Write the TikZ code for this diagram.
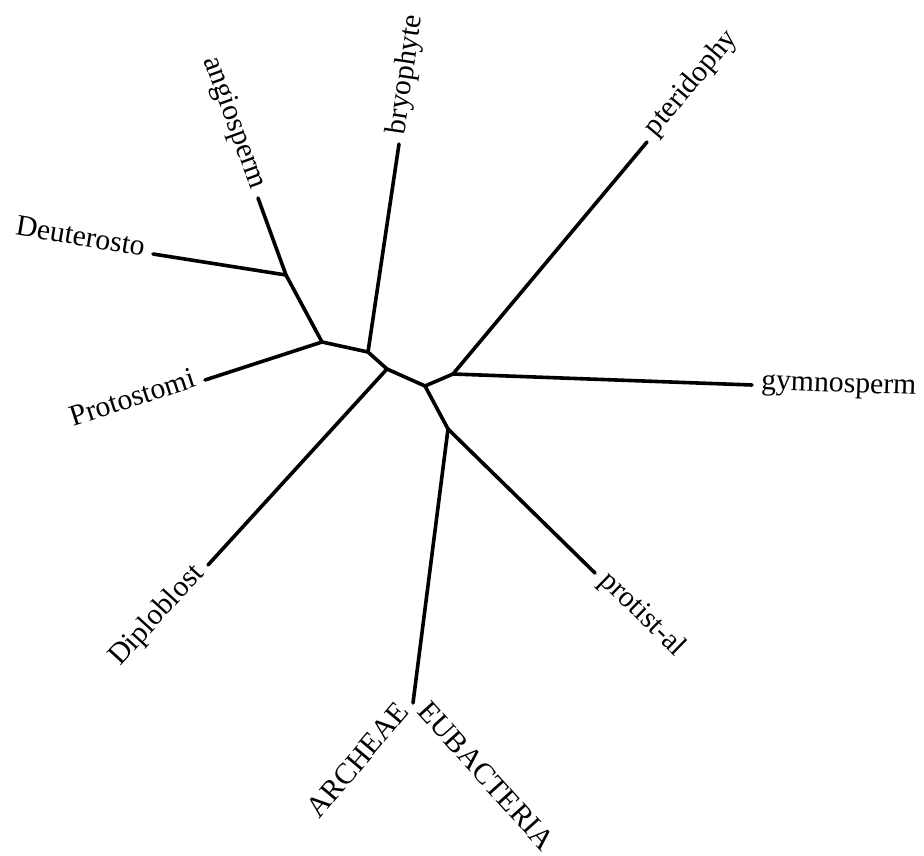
\documentclass[tikz,border=0pt]{standalone}
\usepackage{fontspec}
\setmainfont{Liberation Serif}
\begin{document}
\begin{tikzpicture}[x=1pt,y=-1pt,
  edge/.style={line width=3.6pt, line cap=round},
  tip/.style={font=\fontsize{29.7}{34}\selectfont, inner xsep=9pt, inner ysep=0pt, text height=0.75em, text depth=0pt}]
\useasboundingbox (0,0) rectangle (924,856);
% internal nodes
\coordinate (A) at (286,275);
\coordinate (B) at (322,342);
\coordinate (C) at (368,352);
\coordinate (D) at (387,369);
\coordinate (E) at (425,386);
\coordinate (F) at (453,374);
\coordinate (G) at (448,429);
\coordinate (H) at (413,703);
% leaves
\coordinate (lang) at (258,198);
\coordinate (ldeu) at (153,254);
\coordinate (lpro) at (205,380);
\coordinate (lbry) at (399,144);
\coordinate (ldip) at (208,565);
\coordinate (lpte) at (647,142);
\coordinate (lgym) at (752,385);
\coordinate (lprt) at (595,573);
% edges
\draw[edge] (A) -- (lang);
\draw[edge] (A) -- (ldeu);
\draw[edge] (A) -- (B);
\draw[edge] (B) -- (lpro);
\draw[edge] (B) -- (C);
\draw[edge] (C) -- (lbry);
\draw[edge] (C) -- (D);
\draw[edge] (D) -- (ldip);
\draw[edge] (D) -- (E);
\draw[edge] (E) -- (F);
\draw[edge] (F) -- (lpte);
\draw[edge] (F) -- (lgym);
\draw[edge] (E) -- (G);
\draw[edge] (G) -- (lprt);
\draw[edge] (G) -- (H);
% labels
\node[tip, anchor=east, rotate=-70] (tang) at (lang) {angiosperm};
\node[tip, anchor=east, rotate=-9.5] (tdeu) at (ldeu) {Deuterosto};
\node[tip, anchor=east, rotate=18] (tpro) at (lpro) {Protostomi};
\node[tip, anchor=west, rotate=81.5] (tbry) at (lbry) {bryophyte};
\node[tip, anchor=east, rotate=47.6] (tdip) at (ldip) {Diploblost};
\node[tip, anchor=west, rotate=50.1] (tpte) at (lpte) {pteridophy};
\node[tip, anchor=west, rotate=-2.1] (tgym) at (lgym) {gymnosperm};
\node[tip, anchor=west, rotate=-44.4] (tprt) at (lprt) {protist-al};
\node[tip, anchor=east, rotate=50] (tarc) at (H) {ARCHEAE};
\node[tip, anchor=west, rotate=-48] (teub) at (H) {EUBACTERIA};
\end{tikzpicture}
\end{document}
